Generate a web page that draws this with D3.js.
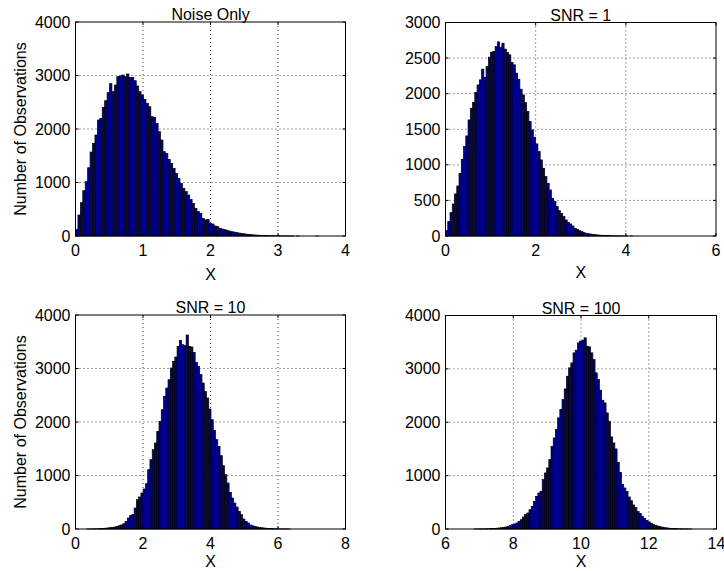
<!DOCTYPE html>
<html>
<head>
<meta charset="utf-8">
<script src="https://cdn.jsdelivr.net/npm/d3@7"></script>
<style>
  body { margin: 0; background: #fff; }
  text { font-family: "Liberation Sans", Arial, Helvetica, sans-serif; fill: #000; }
</style>
</head>
<body>
<script>
// histogram counts (100-ish bins each)
const noiseStart = 0, noiseWidth = 0.036
const noiseCounts = [125,392,623,847,1015,1277,1570,1732,1888,2168,
  2199,2405,2529,2679,2847,2698,2822,2978,2990,3009,
  2978,3028,2965,2965,2903,2804,2698,2635,2554,2480,
  2417,2230,2218,2106,1950,1794,1576,1545,1433,1358,
  1265,1171,1078,984,891,829,766,685,611,517,
  455,424,330,299,312,237,224,187,174,143,
  130,118,105,92,80,72,62,54,46,40,
  34,29,24,20,17,14,12,10,8,6,
  5,4,3,3,2,2,1,1,1,1,
  0,1,0,0,0,0,0,0,0,1]

const snr1Start = 0, snr1Width = 0.05
const snr1Counts = [75,202,328,450,591,703,881,1078,1256,1406,
  1631,1795,1875,2016,2123,2194,2344,2231,2381,2513,
  2583,2592,2663,2728,2653,2709,2625,2578,2545,2438,
  2405,2288,2203,2063,1983,1875,1748,1608,1491,1388,
  1294,1186,1069,952,834,741,647,530,483,413,
  356,319,272,225,188,169,141,108,94,75,
  61,47,38,32,27,22,18,15,12,10,
  8,6,5,4,3,3,2,2,1,1,
  1,0,1,0,0,0,0,0,0,0]

const snr10Start = 0.33, snr10Width = 0.067
const snr10Counts = [1,1,2,3,4,6,8,11,15,20,
  25,31,37,50,62,75,100,143,206,249,
  274,392,548,598,673,748,847,1109,1296,1483,
  1607,1825,2012,2230,2480,2635,2791,3009,3134,3215,
  3414,3526,3445,3427,3626,3414,3402,3302,3115,3040,
  2885,2729,2573,2448,2243,2043,1844,1670,1545,1371,
  1184,1015,860,685,579,486,411,330,268,187,
  143,112,75,60,48,38,30,23,18,14,
  10,8,6,4,3,2,2,1,1,1,0]

const snr100Start = 6.84, snr100Width = 0.065
const snr100Counts = [1,1,2,2,3,4,5,7,9,12,15,19,24,
  31,37,50,62,81,94,112,144,175,225,
  269,300,362,425,519,612,675,706,925,1050,
  1144,1300,1550,1706,1862,2081,2237,2425,2625,2862,
  3019,3112,3300,3350,3487,3519,3537,3581,3425,3412,
  3300,3175,2925,2800,2600,2412,2362,2175,2019,1725,
  1612,1500,1250,1062,831,769,
  700,600,530,450,405,330,290,240,200,160,
  135,110,88,70,56,44,35,27,21,16,
  12,9,7,5,4,3,2,2,1,1]

const titles = ["Noise Only", "SNR = 1", "SNR = 10", "SNR = 100"]
const xTickSets = [[0,1,2,3,4], [0,2,4,6], [0,2,4,6,8], [6,8,10,12,14]]
const yTickSets = [[0,1000,2000,3000,4000], [0,500,1000,1500,2000,2500,3000],
  [0,1000,2000,3000,4000], [0,1000,2000,3000,4000]]

const panels = [
  {counts: noiseCounts, start: noiseStart, bw: noiseWidth, box: {l: 75.5, r: 345.5, t: 22, b: 236}, xlabY: 280, ylab: true},
  {counts: snr1Counts, start: snr1Start, bw: snr1Width, box: {l: 445.5, r: 716, t: 22.5, b: 236}, xlabY: 278, ylab: false},
  {counts: snr10Counts, start: snr10Start, bw: snr10Width, box: {l: 75.5, r: 345.5, t: 315, b: 529}, xlabY: 567, ylab: true},
  {counts: snr100Counts, start: snr100Start, bw: snr100Width, box: {l: 445.5, r: 716.5, t: 315.5, b: 529}, xlabY: 567, ylab: false}
]

const svg = d3.select("body").append("svg")
    .attr("width", 724)
    .attr("height", 571)

panels.forEach((p, k) => {
  const xt = xTickSets[k], yt = yTickSets[k]
  const x = d3.scaleLinear().domain([xt[0], xt[xt.length-1]]).range([p.box.l, p.box.r])
  const y = d3.scaleLinear().domain([yt[0], yt[yt.length-1]]).range([p.box.b, p.box.t])
  const g = svg.append("g")

  // dotted grid, behind bars
  g.selectAll(".gx").data(xt.slice(1, -1)).enter().append("line")
      .attr("x1", d => x(d)).attr("x2", d => x(d))
      .attr("y1", p.box.t).attr("y2", p.box.b)
      .attr("stroke", "#444").attr("stroke-dasharray", "1,3")
  g.selectAll(".gy").data(yt.slice(1, -1)).enter().append("line")
      .attr("y1", d => y(d)).attr("y2", d => y(d))
      .attr("x1", p.box.l).attr("x2", p.box.r)
      .attr("stroke", "#444").attr("stroke-dasharray", "1,3")

  // bars
  g.selectAll(".bar").data(p.counts).enter().append("rect")
      .attr("x", (d, i) => x(p.start + i * p.bw))
      .attr("width", (d, i) => x(p.start + (i + 1) * p.bw) - x(p.start + i * p.bw))
      .attr("y", d => y(d))
      .attr("height", d => y(0) - y(d))
      .attr("fill", "#00008f")
      .attr("stroke", "#000")
      .attr("stroke-width", 0.7)

  // box + inward ticks
  g.append("rect")
      .attr("x", p.box.l).attr("y", p.box.t)
      .attr("width", p.box.r - p.box.l).attr("height", p.box.b - p.box.t)
      .attr("fill", "none").attr("stroke", "#000")
  xt.forEach(d => {
    g.append("line").attr("x1", x(d)).attr("x2", x(d)).attr("y1", p.box.b).attr("y2", p.box.b - 3).attr("stroke", "#000")
    g.append("line").attr("x1", x(d)).attr("x2", x(d)).attr("y1", p.box.t).attr("y2", p.box.t + 3).attr("stroke", "#000")
  })
  yt.forEach(d => {
    g.append("line").attr("x1", p.box.l).attr("x2", p.box.l + 3).attr("y1", y(d)).attr("y2", y(d)).attr("stroke", "#000")
    g.append("line").attr("x1", p.box.r).attr("x2", p.box.r - 3).attr("y1", y(d)).attr("y2", y(d)).attr("stroke", "#000")
  })

  // tick labels
  g.selectAll(".xl").data(xt).enter().append("text")
      .attr("x", d => x(d)).attr("y", p.box.b + 20)
      .attr("text-anchor", "middle").attr("font-size", 16)
      .text(d => d)
  g.selectAll(".yl").data(yt).enter().append("text")
      .attr("x", p.box.l - 5).attr("y", d => y(d)).attr("dy", "0.35em")
      .attr("text-anchor", "end").attr("font-size", 16)
      .text(d => d)

  // title, axis labels
  g.append("text")
      .attr("x", (p.box.l + p.box.r) / 2).attr("y", p.box.t - 2)
      .attr("text-anchor", "middle").attr("font-size", 16)
      .text(titles[k])
  g.append("text")
      .attr("x", (p.box.l + p.box.r) / 2).attr("y", p.xlabY)
      .attr("text-anchor", "middle").attr("font-size", 16)
      .text("X")
  if (p.ylab) {
    g.append("text")
        .attr("transform", `translate(26,${(p.box.t + p.box.b) / 2}) rotate(-90)`)
        .attr("text-anchor", "middle").attr("font-size", 16)
        .text("Number of Observations")
  }
})
</script>
</body>
</html>
